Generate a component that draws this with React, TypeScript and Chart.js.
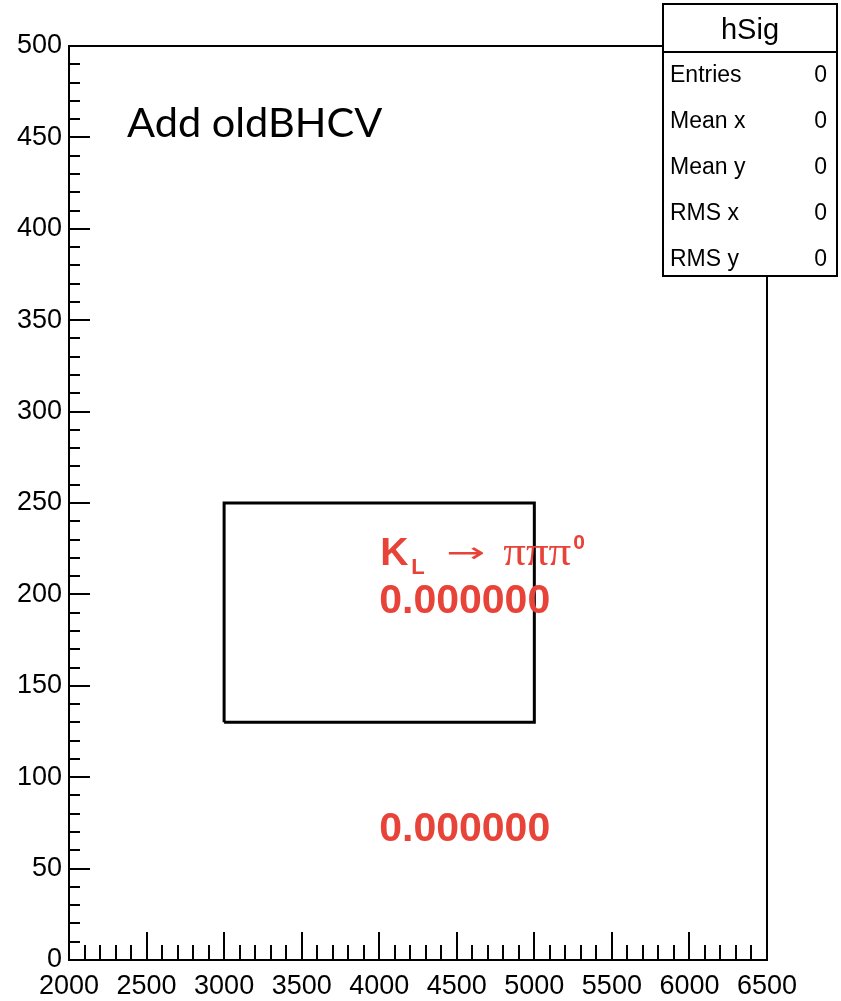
import React, { useEffect, useRef } from "react";
import { Chart, registerables } from "chart.js";

Chart.register(...registerables);

// Axis ranges and tick labels
const xMin = 2000;
const xMax = 6500;
const xMajorStep = 500;
const xMinorStep = 100;
const yMin = 0;
const yMax = 500;
const yMajorStep = 50;
const yMinorStep = 10;

// Rectangle (signal box) corners
const boxX = [3000, 5000, 5000, 3000, 3000];
const boxY = [130, 130, 250, 250, 130];

// Stats box
const statsTitle = "hSig";
const statsLabels = ["Entries", "Mean x", "Mean y", "RMS x", "RMS y"];
const statsValues = ["0", "0", "0", "0", "0"];

// Annotations (data coordinates)
const decayText = { x: 4000, y: 216 };
const value1 = { x: 4000, y: 190, text: "0.000000" };
const value2 = { x: 4000, y: 65, text: "0.000000" };
const noteText = "Add oldBHCV";

const RED = "rgb(232,67,56)";
const SANS = "'Liberation Sans', Arial, Helvetica, sans-serif";

const overlayPlugin = {
  id: "rootOverlay",
  afterDraw(chart: any) {
    const { ctx, chartArea, scales } = chart;
    const xs = scales.x;
    const ys = scales.y;
    const { left, right, top, bottom } = chartArea;
    ctx.save();
    ctx.strokeStyle = "#000";
    ctx.lineWidth = 2;
    ctx.lineCap = "butt";
    // frame
    ctx.strokeRect(left, top, right - left, bottom - top);
    // x ticks (inward)
    ctx.beginPath();
    for (let v = xMin; v <= xMax + 1e-6; v += xMinorStep) {
      const px = Math.round(xs.getPixelForValue(v));
      const major = Math.abs((v - xMin) % xMajorStep) < 1e-6;
      const len = major ? 28 : 15;
      ctx.moveTo(px, bottom);
      ctx.lineTo(px, bottom - len);
    }
    // y ticks (inward)
    for (let v = yMin; v <= yMax + 1e-6; v += yMinorStep) {
      const py = Math.round(ys.getPixelForValue(v));
      const major = Math.abs((v - yMin) % yMajorStep) < 1e-6;
      const len = major ? 21 : 11;
      ctx.moveTo(left, py);
      ctx.lineTo(left + len, py);
    }
    ctx.stroke();

    // Red annotations
    ctx.fillStyle = RED;
    ctx.textBaseline = "alphabetic";
    ctx.textAlign = "left";
    const x0 = xs.getPixelForValue(decayText.x);
    const y0 = ys.getPixelForValue(decayText.y);
    ctx.font = `bold 39px ${SANS}`;
    ctx.fillText("K", x0 + 1, y0);
    ctx.font = `bold 22px ${SANS}`;
    ctx.fillText("L", x0 + 32, y0 + 9);
    // arrow, stretched horizontally
    ctx.font = `28px 'DejaVu Sans', ${SANS}`;
    const aw = ctx.measureText("\u2192").width || 1;
    ctx.save();
    ctx.translate(x0 + 67, y0 - 3);
    ctx.scale(39 / aw, 1);
    ctx.fillText("\u2192", 0, 0);
    ctx.restore();
    ctx.font = `40px 'Liberation Serif', 'Times New Roman', serif`;
    const pw = ctx.measureText("\u03c0\u03c0\u03c0").width || 1;
    ctx.save();
    ctx.translate(x0 + 124, y0);
    ctx.scale(68 / pw, 1);
    ctx.fillText("\u03c0\u03c0\u03c0", 0, 0);
    ctx.restore();
    ctx.font = `bold 21px ${SANS}`;
    ctx.fillText("0", x0 + 194, y0 - 16);

    ctx.font = `bold 41px ${SANS}`;
    ctx.fillText(value1.text, xs.getPixelForValue(value1.x), ys.getPixelForValue(value1.y));
    ctx.fillText(value2.text, xs.getPixelForValue(value2.x), ys.getPixelForValue(value2.y));

    // Note text
    ctx.fillStyle = "#000";
    ctx.font = `41.5px Lato, 'Open Sans', sans-serif`;
    ctx.fillText(noteText, 127, 137);

    // Stats box
    const bx = 663, by = 4, bw = 174, bh = 272, hh = 48;
    ctx.fillStyle = "#fff";
    ctx.fillRect(bx, by, bw, bh);
    ctx.strokeStyle = "#000";
    ctx.lineWidth = 2;
    ctx.strokeRect(bx, by, bw, bh);
    ctx.beginPath();
    ctx.moveTo(bx, by + hh);
    ctx.lineTo(bx + bw, by + hh);
    ctx.stroke();
    ctx.fillStyle = "#000";
    ctx.textBaseline = "middle";
    ctx.textAlign = "center";
    ctx.font = `29px ${SANS}`;
    ctx.fillText(statsTitle, bx + bw / 2, by + 27);
    ctx.font = `23px ${SANS}`;
    statsLabels.forEach((lab, i) => {
      const yy = 76 + i * 45.8;
      ctx.textAlign = "left";
      ctx.fillText(lab, bx + 7, yy);
      ctx.textAlign = "right";
      ctx.fillText(statsValues[i], bx + bw - 10, yy);
    });
    ctx.restore();
  },
};

export default function App() {
  const ref = useRef<HTMLCanvasElement | null>(null);
  useEffect(() => {
    document.body.style.margin = "0";
    const canvas = ref.current!;
    const chart = new Chart(canvas, {
      type: "scatter",
      data: {
        datasets: [
          {
            data: boxX.map((x, i) => ({ x, y: boxY[i] })),
            showLine: true,
            borderColor: "#000",
            borderWidth: 3,
            pointRadius: 0,
            fill: false,
            tension: 0,
          },
        ],
      },
      options: {
        animation: false,
        responsive: false,
        events: [],
        layout: { padding: { top: 46, right: 74, left: 0, bottom: 0 } },
        plugins: { legend: { display: false }, tooltip: { enabled: false } },
        scales: {
          x: {
            type: "linear",
            min: xMin,
            max: xMax,
            grid: { display: false, drawTicks: false },
            border: { display: false },
            afterFit: (s: any) => {
              s.height = 41;
            },
            ticks: {
              stepSize: xMajorStep,
              color: "#000",
              padding: 10,
              maxRotation: 0,
              autoSkip: false,
              font: { family: SANS, size: 27 },
              callback: (v: any) => String(v),
            },
          },
          y: {
            type: "linear",
            min: yMin,
            max: yMax,
            grid: { display: false, drawTicks: false },
            border: { display: false },
            afterFit: (s: any) => {
              s.width = 69;
            },
            ticks: {
              stepSize: yMajorStep,
              color: "#000",
              padding: 7,
              autoSkip: false,
              font: { family: SANS, size: 27 },
              callback: (v: any) => String(v),
            },
          },
        },
      },
      plugins: [overlayPlugin],
    });
    return () => chart.destroy();
  }, []);
  return (
    <div style={{ position: "absolute", left: 0, top: 0, width: 841, height: 1001, background: "#fff" }}>
      <canvas ref={ref} width={841} height={1001} style={{ display: "block" }} />
    </div>
  );
}
